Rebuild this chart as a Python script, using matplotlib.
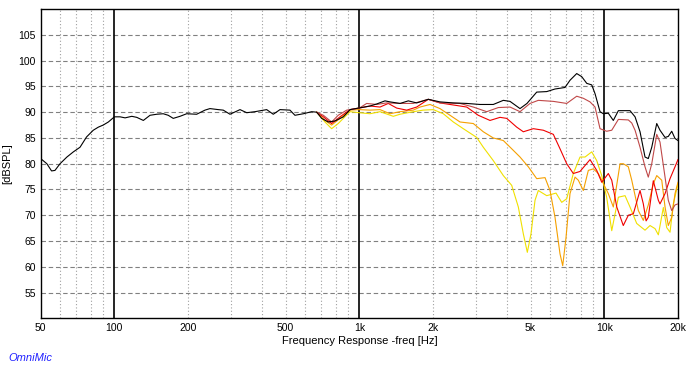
import matplotlib
matplotlib.use('Agg')
import matplotlib.pyplot as plt
from matplotlib.ticker import FixedLocator, NullLocator

plt.rcParams['font.family'] = ['Liberation Sans', 'DejaVu Sans']

# black trace (full range)
f_black = [50, 53, 55.4, 57.2, 60, 64, 68, 72.4, 77, 82,
           86, 90, 94.5, 100, 105.5, 110.6, 117.8, 123.4, 131.3, 139.8,
           148.8, 158.3, 165.9, 173.9, 185.3, 197.3, 216.7, 234.3, 245.6, 265.6,
           278.3, 296.5, 305.9, 325.8, 347, 375, 418.6, 445.4, 474.4, 521,
           546, 591, 639, 670, 702, 747, 796, 861, 917, 991,
           1106, 1178, 1273, 1335, 1467, 1585, 1715, 1913, 2135, 2420,
           2745, 3110, 3524, 3872, 4124, 4530, 4837, 5300, 5823, 6295,
           6916, 7248, 7720, 8092, 8482, 8890, 9170, 9611, 9915, 10390,
           10890, 11420, 12740, 13360, 14000, 14670, 15130, 15630, 16380, 16890,
           17710, 18260, 18860, 19450, 20000]
db_black = [81.0, 80.0, 78.6, 78.7, 80.0, 81.3, 82.3, 83.2, 85.2, 86.5,
            87.1, 87.5, 88.1, 89.1, 89.1, 88.9, 89.2, 89.0, 88.4, 89.4,
            89.6, 89.7, 89.4, 88.8, 89.2, 89.7, 89.6, 90.4, 90.7, 90.5,
            90.4, 89.6, 89.9, 90.5, 89.9, 90.1, 90.5, 89.6, 90.5, 90.4,
            89.4, 89.7, 90.1, 90.0, 88.8, 88.1, 88.3, 89.1, 90.5, 90.8,
            91.2, 91.6, 92.2, 92.0, 91.7, 92.2, 91.8, 92.5, 92.0, 91.8,
            91.7, 91.5, 91.5, 92.3, 92.1, 90.7, 91.7, 93.9, 94.0, 94.5,
            94.8, 96.2, 97.5, 96.9, 95.6, 95.3, 93.6, 90.1, 89.7, 89.8,
            88.4, 90.3, 90.3, 89.1, 86.2, 81.3, 81.0, 83.2, 87.8, 86.5,
            85.1, 85.3, 86.3, 84.9, 84.5]

f_brown = [670, 713, 771, 820, 888, 1000, 1072, 1178, 1293, 1466,
           1661, 1913, 2135, 2577, 2920, 3313, 3694, 4124, 4530, 4977,
           5380, 6196, 7027, 7720, 8215, 8749, 9170, 9611, 10230, 10730,
           11420, 12540, 12950, 13360, 14000, 14670, 15130, 15630, 16380, 16890,
           17710, 18260, 18860, 19450, 20000]
db_brown = [90.0, 89.4, 88.1, 89.4, 90.4, 90.8, 91.7, 91.5, 91.8, 91.7,
            91.7, 92.5, 91.8, 91.7, 91.0, 90.1, 90.9, 91.0, 90.1, 91.7,
            92.3, 92.1, 91.7, 93.1, 92.7, 92.0, 91.0, 86.8, 86.3, 86.5,
            88.6, 88.5, 87.9, 86.5, 83.2, 79.4, 77.4, 80.0, 85.7, 84.2,
            77.4, 72.9, 70.9, 72.0, 72.2]

f_red = [670, 713, 771, 834, 916, 1000, 1106, 1215, 1313, 1421,
         1561, 1715, 1913, 2135, 2420, 2745, 3060, 3417, 3754, 3998,
         4392, 4673, 5133, 5640, 6196, 6598, 7027, 7477, 7964, 8749,
         9318, 9765, 10390, 10730, 11250, 11960, 12540, 13150, 14000, 14440,
         14820, 15130, 15860, 16630, 16890, 17710, 18560, 19450, 20000]
db_red = [90.0, 89.1, 87.8, 89.1, 90.5, 90.8, 91.2, 91.0, 91.7, 90.8,
          90.4, 91.0, 92.5, 91.8, 91.4, 91.0, 89.4, 88.4, 89.0, 88.8,
          87.1, 86.2, 86.8, 86.5, 85.7, 82.9, 80.0, 78.1, 78.5, 80.8,
          78.7, 76.4, 78.1, 76.8, 71.6, 68.0, 70.0, 70.3, 74.8, 72.2,
          68.9, 69.6, 76.7, 72.9, 72.2, 74.2, 77.1, 79.4, 80.8]

f_orange = [670, 724, 771, 834, 916, 1000, 1106, 1215, 1335, 1466,
            1661, 1769, 1944, 2135, 2346, 2577, 2920, 3208, 3524, 3872,
            4190, 4530, 4898, 5300, 5731, 6006, 6295, 6598, 6768, 6982,
            7248, 7598, 7837, 8215, 8610, 9025, 9459, 9765, 10390, 10890,
            11600, 11960, 12540, 12950, 13780, 14440, 15130, 15860, 16380, 17170,
            17710, 18260, 18860, 19450, 20000]
db_orange = [90.0, 88.4, 87.5, 88.8, 90.4, 90.5, 90.4, 90.5, 89.7, 90.1,
             90.4, 91.0, 91.5, 90.7, 89.4, 88.1, 87.8, 86.2, 85.0, 84.5,
             82.9, 81.3, 79.4, 77.1, 77.3, 74.8, 69.6, 62.5, 60.2, 65.7,
             74.2, 77.4, 76.8, 74.8, 78.7, 79.0, 78.1, 76.8, 74.2, 71.6,
             80.0, 80.0, 79.4, 76.8, 70.9, 69.0, 72.0, 76.1, 77.7, 76.8,
             71.6, 68.0, 69.6, 74.2, 76.4]

f_yellow = [670, 724, 771, 820, 916, 1000, 1106, 1215, 1376, 1466,
            1661, 1825, 2005, 2202, 2420, 2658, 3015, 3208, 3524, 3872,
            4190, 4459, 4673, 4852, 5023, 5216, 5380, 5823, 6355, 6704,
            7027, 7477, 7964, 8348, 8890, 9318, 9765, 10230, 10730, 11420,
            12160, 12740, 13570, 14670, 15380, 16120, 16630, 17430, 17990, 18560,
            19140, 19760, 20000]
db_yellow = [90.0, 88.1, 86.8, 87.8, 90.1, 89.9, 89.7, 90.1, 89.2, 89.6,
             90.1, 90.4, 90.5, 89.7, 88.1, 86.8, 85.1, 83.2, 80.6, 77.7,
             75.8, 71.6, 66.4, 62.8, 66.4, 72.9, 74.8, 73.8, 74.3, 72.5,
             73.2, 78.1, 81.3, 81.3, 82.3, 80.6, 77.7, 73.5, 67.0, 73.5,
             73.8, 71.6, 68.4, 67.1, 68.0, 67.4, 66.2, 71.5, 67.6, 66.7,
             72.2, 75.0, 76.1]

x_ticks = [50, 100, 200, 500, 1000, 2000, 5000, 10000, 20000]
x_ticklabels = ['50', '100', '200', '500', '1k', '2k', '5k', '10k', '20k']
y_ticks = [55, 60, 65, 70, 75, 80, 85, 90, 95, 100, 105]

fig = plt.figure(figsize=(6.89, 3.72), dpi=100)
ax = fig.add_axes([0.059, 0.1444, 0.925, 0.831])

# grid: dotted verticals, dashed horizontals, solid black decades
for f in [60, 70, 80, 90] + [k * 100 for k in range(2, 10)] + \
         [k * 1000 for k in range(2, 10)]:
    ax.axvline(f, color='#a0a0a0', lw=0.8, ls=(0, (1, 2)), zorder=1)
for y in y_ticks:
    ax.axhline(y, color='#808080', lw=0.8, ls=(0, (4, 2.5)), zorder=1)
for f in [100, 1000, 10000]:
    ax.axvline(f, color='black', lw=1.2, zorder=1)

ax.plot(f_yellow, db_yellow, color='#f0e000', lw=0.8, zorder=3)
ax.plot(f_orange, db_orange, color='#f5a000', lw=0.8, zorder=4)
ax.plot(f_red, db_red, color='#f00000', lw=0.8, zorder=5)
ax.plot(f_brown, db_brown, color='#c04848', lw=0.8, zorder=6)
ax.plot(f_black, db_black, color='black', lw=0.8, zorder=7)

ax.set_xscale('log')
ax.set_xlim(50, 20000)
ax.set_ylim(50, 110)
ax.xaxis.set_major_locator(FixedLocator(x_ticks))
ax.xaxis.set_minor_locator(NullLocator())
ax.set_xticklabels(x_ticklabels)
ax.set_yticks(y_ticks)
ax.tick_params(length=0, labelsize=7.5, pad=3.5)

for s in ax.spines.values():
    s.set_color('black')
    s.set_linewidth(1.0)

ax.set_xlabel('Frequency Response -freq [Hz]', fontsize=8, labelpad=2)
ax.set_ylabel('[dBSPL]', fontsize=8)
ax.yaxis.set_label_coords(-0.044, 0.5)
fig.text(0.012, 0.038, 'OmniMic', color='#2020ff', fontsize=8,
         style='italic', va='center')

fig.savefig('out.png', dpi=100)
